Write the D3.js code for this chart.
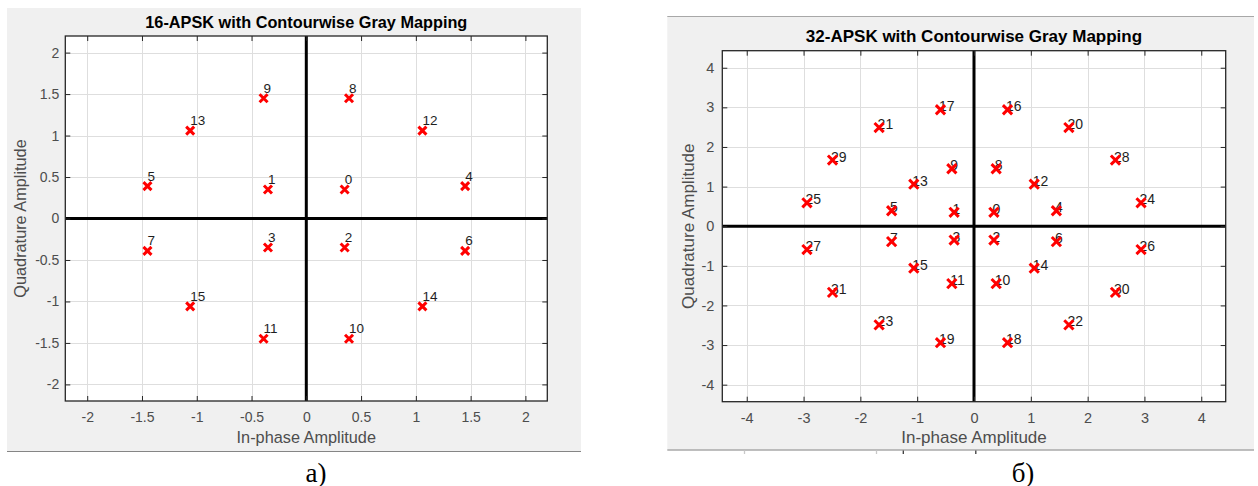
<!DOCTYPE html>
<html>
<head>
<meta charset="utf-8">
<script src="https://cdn.jsdelivr.net/npm/d3@7"></script>
<style>
  html, body { margin: 0; padding: 0; background: #fff; }
  svg { display: block; }
</style>
</head>
<body>
<svg id="fig" width="1258" height="486"></svg>
<script>
// ---- 16-APSK constellation: symbol index, in-phase and quadrature values ----
const apsk16Labels = [0, 1, 2, 3, 4, 5, 6, 7, 8, 9, 10, 11, 12, 13, 14, 15];
const apsk16I = [0.35, -0.35, 0.35, -0.35, 1.45, -1.45, 1.45, -1.45, 0.39, -0.39, 0.39, -0.39, 1.06, -1.06, 1.06, -1.06];
const apsk16Q = [0.35, 0.35, -0.35, -0.35, 0.39, 0.39, -0.39, -0.39, 1.45, 1.45, -1.45, -1.45, 1.06, 1.06, -1.06, -1.06];
const apsk16Ticks = [-2, -1.5, -1, -0.5, 0, 0.5, 1, 1.5, 2];

// ---- 32-APSK constellation ----
const apsk32Labels = [0, 1, 2, 3, 4, 5, 6, 7, 8, 9, 10, 11, 12, 13, 14, 15,
                      16, 17, 18, 19, 20, 21, 22, 23, 24, 25, 26, 27, 28, 29, 30, 31];
const apsk32I = [0.35, -0.35, 0.35, -0.35, 1.45, -1.45, 1.45, -1.45, 0.39, -0.39, 0.39, -0.39, 1.06, -1.06, 1.06, -1.06,
                 0.59, -0.59, 0.59, -0.59, 1.67, -1.67, 1.67, -1.67, 2.94, -2.94, 2.94, -2.94, 2.49, -2.49, 2.49, -2.49];
const apsk32Q = [0.35, 0.35, -0.35, -0.35, 0.39, 0.39, -0.39, -0.39, 1.45, 1.45, -1.45, -1.45, 1.06, 1.06, -1.06, -1.06,
                 2.94, 2.94, -2.94, -2.94, 2.49, 2.49, -2.49, -2.49, 0.59, 0.59, -0.59, -0.59, 1.67, 1.67, -1.67, -1.67];
const apsk32Ticks = [-4, -3, -2, -1, 0, 1, 2, 3, 4];

const chartTitles = ["16-APSK with Contourwise Gray Mapping", "32-APSK with Contourwise Gray Mapping"];
const xAxisLabel = "In-phase Amplitude";
const yAxisLabel = "Quadrature Amplitude";
const captions = ["а)", "б)"];

const svg = d3.select("#fig");
const SANS = "'Liberation Sans', Arial, Helvetica, sans-serif";
const SERIF = "'Liberation Serif', 'Times New Roman', serif";
const fmt = d => String(d).replace("\u2212", "-");

function drawConstellation(o) {
  const g = svg.append("g");

  // figure background panel
  g.append("rect")
    .attr("x", o.panel[0]).attr("y", o.panel[1])
    .attr("width", o.panel[2] - o.panel[0]).attr("height", o.panel[3] - o.panel[1])
    .attr("fill", "#f0f0f0");
  g.append("line")
    .attr("x1", o.panel[0]).attr("x2", o.panel[2])
    .attr("y1", o.panel[3] - 0.5).attr("y2", o.panel[3] - 0.5)
    .attr("stroke", "#858585").attr("stroke-width", 1.2);
  if (o.topRule) {
    g.append("line")
      .attr("x1", o.panel[0]).attr("x2", o.panel[2])
      .attr("y1", o.panel[1] + 0.5).attr("y2", o.panel[1] + 0.5)
      .attr("stroke", "#a8a8a8").attr("stroke-width", 1);
  }

  const x = d3.scaleLinear().domain([-o.lim, o.lim]).range([o.left, o.right]);
  const y = d3.scaleLinear().domain([-o.lim, o.lim]).range([o.bottom, o.top]);

  // plot area
  g.append("rect")
    .attr("x", o.left).attr("y", o.top)
    .attr("width", o.right - o.left).attr("height", o.bottom - o.top)
    .attr("fill", "#fff");

  // grid
  const grid = g.append("g").attr("stroke", "#dedede").attr("stroke-width", 1);
  grid.selectAll("line.v").data(o.ticks).join("line").attr("class", "v")
    .attr("x1", d => Math.round(x(d)) + 0.5).attr("x2", d => Math.round(x(d)) + 0.5)
    .attr("y1", o.top).attr("y2", o.bottom);
  grid.selectAll("line.h").data(o.ticks).join("line").attr("class", "h")
    .attr("y1", d => Math.round(y(d)) + 0.5).attr("y2", d => Math.round(y(d)) + 0.5)
    .attr("x1", o.left).attr("x2", o.right);

  // zero axes
  g.append("line")
    .attr("x1", x(0)).attr("x2", x(0)).attr("y1", o.top).attr("y2", o.bottom)
    .attr("stroke", "#000").attr("stroke-width", 3);
  g.append("line")
    .attr("x1", o.left).attr("x2", o.right).attr("y1", y(0)).attr("y2", y(0))
    .attr("stroke", "#000").attr("stroke-width", 3);

  // axes with inward ticks on all four sides
  const styleAxis = sel => {
    sel.select(".domain").remove();
    sel.selectAll(".tick line").attr("stroke", "#262626");
    sel.selectAll(".tick text")
      .attr("fill", "#4d4d4d")
      .style("font-family", SANS)
      .style("font-size", o.tickSize + "px");
  };
  g.append("g").attr("transform", `translate(0,${o.bottom})`)
    .call(d3.axisBottom(x).tickValues(o.ticks).tickFormat(fmt).tickSize(-5).tickPadding(o.xPad))
    .call(styleAxis);
  g.append("g").attr("transform", `translate(${o.left},0)`)
    .call(d3.axisLeft(y).tickValues(o.ticks).tickFormat(fmt).tickSize(-5).tickPadding(o.yPad))
    .call(styleAxis);
  g.append("g").attr("transform", `translate(0,${o.top})`)
    .call(d3.axisTop(x).tickValues(o.ticks).tickFormat("").tickSize(-5))
    .call(styleAxis);
  g.append("g").attr("transform", `translate(${o.right},0)`)
    .call(d3.axisRight(y).tickValues(o.ticks).tickFormat("").tickSize(-5))
    .call(styleAxis);

  // plot box
  g.append("rect")
    .attr("x", o.left).attr("y", o.top)
    .attr("width", o.right - o.left).attr("height", o.bottom - o.top)
    .attr("fill", "none").attr("stroke", "#262626").attr("stroke-width", 1.3);

  const pts = o.labels.map((k, i) => ({ k, i: o.iVals[i], q: o.qVals[i] }));

  const drawLabels = () => g.append("g").selectAll("text").data(pts).join("text")
    .attr("x", d => x(d.i) + o.labDx)
    .attr("y", d => y(d.q) + o.labDy)
    .attr("fill", "#1e1e1e")
    .style("font-family", SANS)
    .style("font-size", o.labSize + "px")
    .text(d => d.k);

  const drawMarkers = () => {
    const h = o.mark;
    g.append("g").selectAll("path").data(pts).join("path")
      .attr("transform", d => `translate(${x(d.i)},${y(d.q)})`)
      .attr("d", `M${-h},${-h}L${h},${h}M${-h},${h}L${h},${-h}`)
      .attr("stroke", "#ff0000").attr("stroke-width", 3).attr("fill", "none");
  };

  if (o.labelsUnder) { drawLabels(); drawMarkers(); } else { drawMarkers(); drawLabels(); }

  // title and axis labels
  const cx = (o.left + o.right) / 2, cy = (o.top + o.bottom) / 2;
  g.append("text").attr("x", cx).attr("y", o.titleY)
    .attr("text-anchor", "middle").attr("fill", "#000")
    .style("font-family", SANS).style("font-weight", "bold").style("font-size", o.titleSize + "px")
    .text(o.title);
  g.append("text").attr("x", cx).attr("y", o.xLabY)
    .attr("text-anchor", "middle").attr("fill", "#4d4d4d")
    .style("font-family", SANS).style("font-size", o.labelSize + "px")
    .text(xAxisLabel);
  g.append("text").attr("transform", `translate(${o.yLabX},${cy}) rotate(-90)`)
    .attr("text-anchor", "middle").attr("fill", "#4d4d4d")
    .style("font-family", SANS).style("font-size", o.labelSize + "px")
    .text(yAxisLabel);

  // caption below the figure
  svg.append("text").attr("x", o.capX).attr("y", 481.5)
    .attr("text-anchor", "middle").attr("fill", "#000")
    .style("font-family", SERIF).style("font-size", "27px")
    .text(o.caption);
}

drawConstellation({
  panel: [7, 8, 581, 452], topRule: false,
  left: 65.3, right: 547.3, top: 36, bottom: 401, lim: 2.2,
  ticks: apsk16Ticks, labels: apsk16Labels, iVals: apsk16I, qVals: apsk16Q,
  tickSize: 14, xPad: 11.5, yPad: 6, labelSize: 16.3, titleSize: 16.3,
  titleY: 28.3, xLabY: 443, yLabX: 25.5,
  labDx: 0, labDy: -5.5, labSize: 13.5, mark: 4, labelsUnder: false,
  title: chartTitles[0], caption: captions[0], capX: 316
});

drawConstellation({
  panel: [667.3, 16, 1254, 450.5], topRule: true,
  left: 722.3, right: 1225.7, top: 50.7, bottom: 401.7, lim: 4.43,
  ticks: apsk32Ticks, labels: apsk32Labels, iVals: apsk32I, qVals: apsk32Q,
  tickSize: 14.5, xPad: 11, yPad: 8, labelSize: 17, titleSize: 17,
  titleY: 41.7, xLabY: 443, yLabX: 693.5,
  labDx: -1.5, labDy: 1.5, labSize: 14, mark: 4.6, labelsUnder: true,
  title: chartTitles[1], caption: captions[1], capX: 1023
});

// small edge marks left under the second panel's lower border
svg.append("g").selectAll("line")
  .data([{ x: 744.5, c: "#c8c8c8" }, { x: 876.5, c: "#c8c8c8" }, { x: 903.3, c: "#3a3a3a" }, { x: 975.8, c: "#3a3a3a" }])
  .join("line")
  .attr("x1", d => d.x).attr("x2", d => d.x).attr("y1", 450.5).attr("y2", 454)
  .attr("stroke", d => d.c).attr("stroke-width", 1.3);
</script>
</body>
</html>
